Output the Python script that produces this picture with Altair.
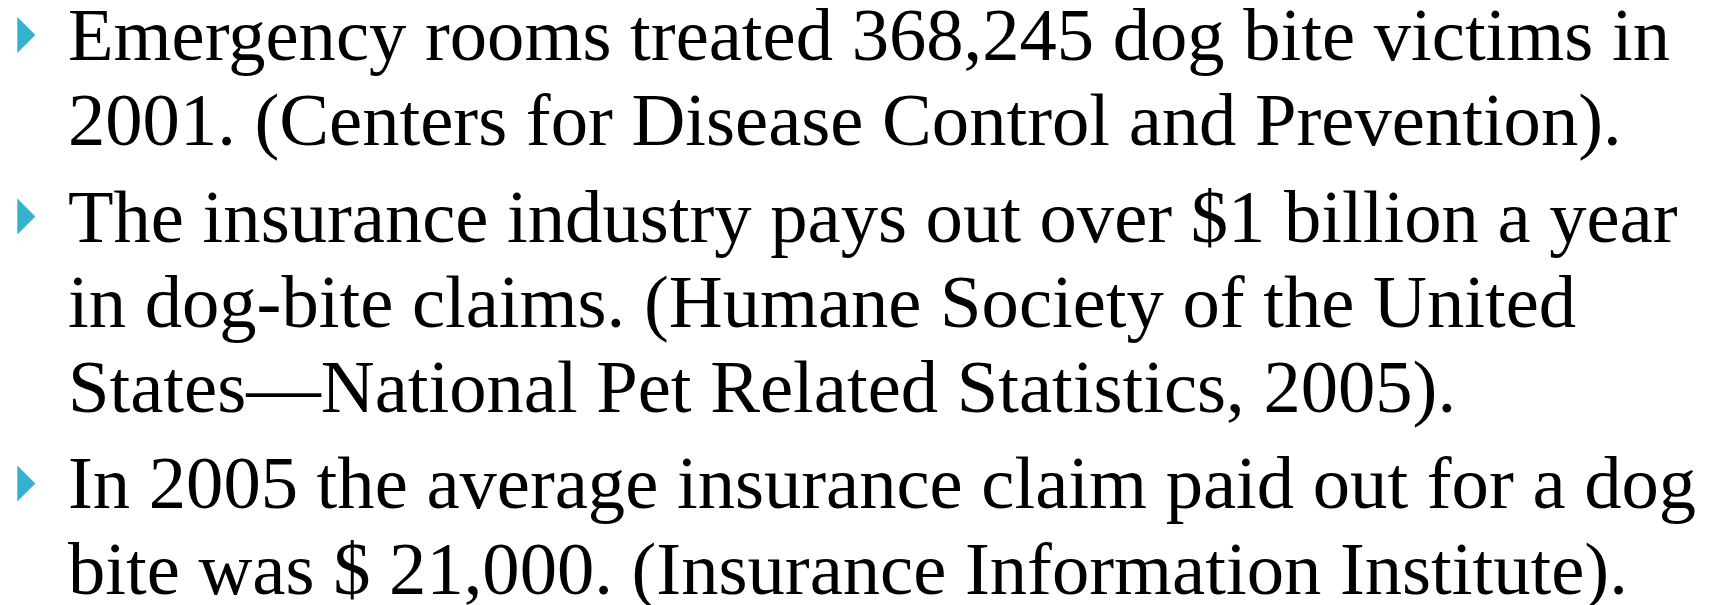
import altair as alt
import pandas as pd

# Slide content
bullets = [
    ["Emergency rooms treated 368,245 dog bite victims in",
     "2001. (Centers for Disease Control and Prevention)."],
    ["The insurance industry pays out over $1 billion a year",
     "in dog-bite claims. (Humane Society of the United",
     "States\u2014National Pet Related Statistics, 2005)."],
    ["In 2005 the average insurance claim paid out for a dog",
     "bite was $ 21,000. (Insurance Information Institute)."],
]

rows = []
line_idx = 0
for b, lines in enumerate(bullets):
    for j, t in enumerate(lines):
        rows.append({"text": t, "line": line_idx, "bullet": b, "first": j == 0})
        line_idx += 1

df = pd.DataFrame(rows)
# layout: line pitch and extra space between bullets (page pixels)
df["y"] = 60 + 85.2 * df["line"] + 11.2 * df["bullet"]
df["x"] = 68
bdf = df[df["first"]].copy()
bdf["by"] = bdf["y"] - 25
bdf["bx"] = 26.3

W, H = 1700, 597
xs = alt.Scale(domain=[8, 8 + W], range=[0, W])
ys = alt.Scale(domain=[8, 8 + H], range=[0, H])

text = alt.Chart(df).mark_text(
    font="Liberation Serif", fontSize=74.6, color="#000000",
    align="left", baseline="alphabetic"
).encode(
    x=alt.X("x:Q", scale=xs, axis=None),
    y=alt.Y("y:Q", scale=ys, axis=None),
    text="text:N",
)

marks = alt.Chart(bdf).mark_point(
    shape="M-0.5,-1L0.5,0L-0.5,1Z", filled=True, size=1296,
    color="#34B1CC", opacity=1, strokeWidth=0
).encode(
    x=alt.X("bx:Q", scale=xs, axis=None),
    y=alt.Y("by:Q", scale=ys, axis=None),
)

chart = alt.layer(text, marks).properties(
    width=W, height=H, padding=0, background="white",
    autosize=alt.AutoSizeParams(type="none"),
).configure_view(stroke=None)

chart.save("out.html", embed_options={"renderer": "svg", "actions": False})
